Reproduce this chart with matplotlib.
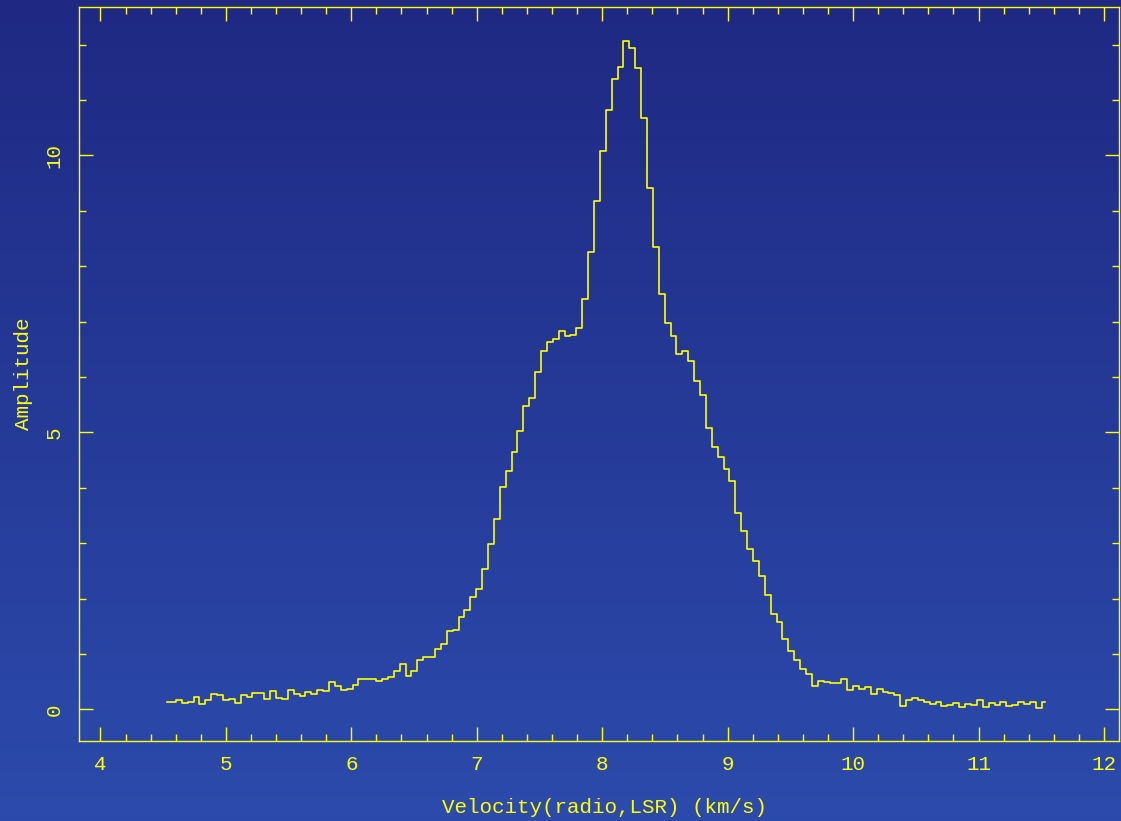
import numpy as np
import matplotlib
matplotlib.use('Agg')
import matplotlib.pyplot as plt
from matplotlib.ticker import MultipleLocator


# spectrum channels (velocity grid of the spectrometer)
v_start = 4.531   # km/s, centre of first channel
dv = 0.04695      # km/s, channel width

amplitude = [
    0.13, 0.14, 0.16, 0.12, 0.14, 0.22, 0.10, 0.16, 0.28, 0.25,
    0.16, 0.19, 0.11, 0.25, 0.22, 0.30, 0.30, 0.19, 0.33, 0.20,
    0.19, 0.35, 0.28, 0.24, 0.31, 0.27, 0.35, 0.33, 0.50, 0.42,
    0.35, 0.37, 0.44, 0.55, 0.55, 0.55, 0.51, 0.55, 0.58, 0.70,
    0.81, 0.61, 0.70, 0.89, 0.95, 0.95, 1.08, 1.17, 1.41, 1.43,
    1.67, 1.79, 2.03, 2.18, 2.54, 2.99, 3.43, 4.01, 4.31, 4.64,
    5.02, 5.47, 5.62, 6.09, 6.46, 6.63, 6.69, 6.83, 6.74, 6.76,
    6.89, 7.40, 8.26, 9.17, 10.08, 10.81, 11.37, 11.59, 12.07, 11.93,
    11.58, 10.68, 9.41, 8.34, 7.50, 6.98, 6.74, 6.42, 6.46, 6.28,
    5.92, 5.67, 5.08, 4.74, 4.55, 4.33, 4.13, 3.55, 3.22, 2.89,
    2.68, 2.40, 2.06, 1.72, 1.58, 1.27, 1.05, 0.89, 0.72, 0.64,
    0.42, 0.52, 0.50, 0.48, 0.47, 0.55, 0.34, 0.42, 0.36, 0.40,
    0.27, 0.37, 0.32, 0.30, 0.26, 0.06, 0.16, 0.20, 0.17, 0.13,
    0.09, 0.14, 0.06, 0.08, 0.11, 0.05, 0.10, 0.07, 0.16, 0.04,
    0.12, 0.08, 0.14, 0.06, 0.07, 0.14, 0.09, 0.13, 0.03, 0.13,
]
velocity = v_start + dv * np.arange(len(amplitude))

x_ticks = [4, 5, 6, 7, 8, 9, 10, 11, 12]
y_ticks = [0, 5, 10]

fg = '#ffff00'
plt.rcParams['font.family'] = ['Liberation Mono', 'DejaVu Sans Mono']

fig = plt.figure(figsize=(11.21, 8.21), dpi=100)

# blue vertical gradient behind everything
bg = fig.add_axes([0, 0, 1, 1], zorder=0)
top = np.array([31, 41, 131]) / 255
bottom = np.array([44, 75, 172]) / 255
t = np.linspace(0, 1, 256)[:, None, None]
grad = top * (1 - t) + bottom * t
bg.imshow(np.repeat(grad, 2, axis=1), aspect='auto', extent=[0, 1, 0, 1])
bg.axis('off')

ax = fig.add_axes([79 / 1121, 1 - 741 / 821, 1040 / 1121, 734 / 821], zorder=1)
ax.set_facecolor('none')
ax.plot(velocity, amplitude, drawstyle='steps-mid', color=fg, lw=1.2)

ax.set_xlim(3.829, 12.12)
ax.set_ylim(-0.572, 12.677)
ax.set_xticks(x_ticks)
ax.set_yticks(y_ticks)
ax.xaxis.set_minor_locator(MultipleLocator(0.2))
ax.yaxis.set_minor_locator(MultipleLocator(1))

for s in ax.spines.values():
    s.set_color(fg)
    s.set_linewidth(1.0)

ax.tick_params(which='both', direction='in', top=True, right=True,
               color=fg, labelcolor=fg, width=1.0, labelsize=15)
ax.tick_params(which='major', length=10)
ax.tick_params(which='minor', length=5)
ax.tick_params(axis='x', pad=10)
ax.tick_params(axis='y', labelrotation=90, pad=11)
for lbl in ax.get_yticklabels():
    lbl.set_va('center')

ax.set_xlabel('Velocity(radio,LSR) (km/s)', color=fg, fontsize=15)
ax.set_ylabel('Amplitude', color=fg, fontsize=15)
ax.xaxis.set_label_coords(0.505, -0.077)
ax.yaxis.set_label_coords(-0.044, 0.5)

fig.savefig('out.png', dpi=100)
